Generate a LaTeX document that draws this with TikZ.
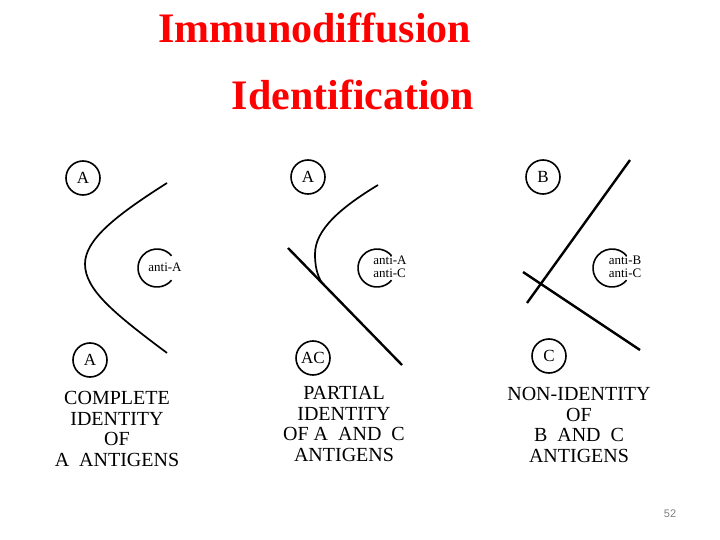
\documentclass[tikz,border=0pt]{standalone}
\usepackage{fontspec}
\setmainfont{Liberation Serif}
\newfontfamily\pgnum{Liberation Sans}
\begin{document}
\begin{tikzpicture}[x=1pt,y=-1pt,
  well/.style={circle,draw,line width=1.6pt,minimum size=34pt,inner sep=0pt,font=\fontsize{17}{17}\selectfont},
  ab/.style={font=\fontsize{13}{12.5}\selectfont,align=left,inner sep=0pt},
  captext/.style={font=\fontsize{20}{20.5}\selectfont,align=center,inner sep=0pt},
  title/.style={font=\fontsize{42}{42}\selectfont\bfseries,text=red,inner sep=0pt,anchor=base},
  band/.style={line width=1.7pt},
  strongband/.style={line width=2.4pt}]
\useasboundingbox (0,0) rectangle (720,540);
% titles
\node[title] (t1) at (315,43) {Immunodiffusion};
\node[title] (t2) at (353,110) {Identification};
% ---------- panel 1
\node[well] (p1a) at (83,178) {A};
\node[well] (p1b) at (90,360) {A};
\draw[line width=1.6pt] (157,268) ++(40:19) arc (40:320:19);
\node[ab] (p1ab) at (165,267) {anti-A};
\draw[band] (167,183) .. controls (115,216) and (85,240) .. (85,264)
            .. controls (85,290) and (115,314) .. (167,353);
\node[captext] (p1t) at (117,429) {COMPLETE\\IDENTITY\\OF\\A\ \ ANTIGENS};
% ---------- panel 2
\node[well] (p2a) at (308,177) {A};
\node[well] (p2b) at (313,358) {AC};
\draw[line width=1.6pt] (377,268) ++(40:19) arc (40:320:19);
\node[ab] (p2ab) at (390,267) {anti-A\\anti-C};
\draw[strongband] (288,248) -- (402,365);
\draw[band] (378,185) .. controls (340,208) and (315,230) .. (315,254)
            .. controls (315,266) and (317,275) .. (322,283);
\node[captext] (p2t) at (344,424) {PARTIAL\\IDENTITY\\OF\ A\ \ AND\ \ C\\ANTIGENS};
% ---------- panel 3
\node[well] (p3a) at (543,177) {B};
\node[well] (p3b) at (549,356) {C};
\draw[line width=1.6pt] (612,268) ++(40:19) arc (40:320:19);
\node[ab] (p3ab) at (625,267) {anti-B\\anti-C};
\draw[strongband] (630,160) -- (527,303);
\draw[strongband] (523,272) -- (640,350);
\node[captext] (p3t) at (579,425) {NON-IDENTITY\\OF\\B\ \ AND\ \ C\\ANTIGENS};
% page number
\node[font=\pgnum\fontsize{11}{11}\selectfont,text=gray] (pg) at (670,514) {52};
\end{tikzpicture}
\end{document}
